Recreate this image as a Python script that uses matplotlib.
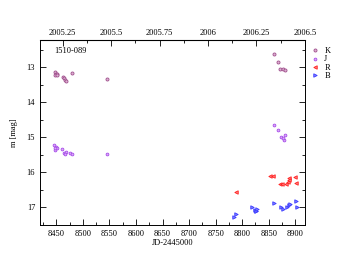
import matplotlib
matplotlib.use("Agg")
import matplotlib.pyplot as plt
from matplotlib.ticker import MultipleLocator, FixedLocator

# ===== DATA (JD-2445000, magnitude) =====
k_jd = [8447.4, 8449.3, 8446.8, 8451.9, 8450.5, 8461.8, 8464.2, 8466.8, 8468.0,
        8479.2, 8545.4, 8859.6, 8868.2, 8871.9, 8877.5, 8881.3]
k_mag = [13.12, 13.20, 13.22, 13.18, 13.21, 13.28, 13.31, 13.37, 13.40,
         13.17, 13.33, 12.61, 12.84, 13.05, 13.06, 13.07]

j_jd = [8445.5, 8449.3, 8446.8, 8451.0, 8446.8, 8459.9, 8464.2, 8468.0, 8466.0,
        8475.4, 8479.9, 8545.4, 8859.6, 8868.2, 8873.2, 8878.2, 8880.6, 8877.5]
j_mag = [15.21, 15.28, 15.37, 15.30, 15.31, 15.33, 15.44, 15.41, 15.47,
         15.44, 15.47, 15.47, 14.64, 14.79, 14.98, 15.06, 14.94, 15.02]

r_jd = [8787.8, 8853.2, 8858.3, 8871.9, 8875.1, 8882.6, 8886.3, 8888.7, 8888.7,
        8900.0, 8901.8]
r_mag = [16.55, 16.11, 16.11, 16.34, 16.34, 16.34, 16.27, 16.16, 16.21,
         16.14, 16.31]

b_jd = [8784.8, 8788.5, 8819.5, 8827.0, 8824.6, 8826.0, 8828.5, 8860.7, 8873.2,
        8876.9, 8884.4, 8888.2, 8890.0, 8901.8, 8903.1]
b_mag = [17.26, 17.20, 17.00, 17.11, 17.07, 17.10, 17.05, 16.86, 17.00,
         17.03, 16.98, 16.92, 16.90, 16.81, 16.98]

year_ticks = [2005.25, 2005.5, 2005.75, 2006, 2006.25, 2006.5]
year_labels = ["2005.25", "2005.5", "2005.75", "2006", "2006.25", "2006.5"]

# ===== CONFIG =====
JD_REF = 8461.8      # JD-2445000 at 2005.25
YEAR_REF = 2005.25
plt.rcParams["font.family"] = ["Liberation Serif", "DejaVu Serif"]
plt.rcParams["font.size"] = 6


def jd_to_year(x):
    return YEAR_REF + (x - JD_REF) / 365.25


def year_to_jd(y):
    return JD_REF + (y - YEAR_REF) * 365.25


fig = plt.figure(figsize=(3.54, 2.73), dpi=100)
ax = fig.add_axes([40 / 354, 48 / 273, 265 / 354, 185 / 273])

ax.plot(k_jd, k_mag, "o", ms=2.2, mfc="#dcb0d2", mec="#a0508c", mew=0.6, label="K")
ax.plot(j_jd, j_mag, "o", ms=2.0, mfc="#dcaaf5", mec="#a64dea", mew=0.6, label="J")
ax.plot(r_jd, r_mag, "<", ms=2.5, mfc="#ff8080", mec="#ff2020", mew=0.6, label="R")
ax.plot(b_jd, b_mag, ">", ms=2.5, mfc="#8080ff", mec="#3a3aff", mew=0.6, label="B")

ax.set_xlim(8419, 8918.5)
ax.set_ylim(17.5, 12.22)
ax.xaxis.set_major_locator(MultipleLocator(50))
ax.xaxis.set_minor_locator(MultipleLocator(25))
ax.yaxis.set_major_locator(MultipleLocator(1))
ax.yaxis.set_minor_locator(MultipleLocator(0.5))
ax.tick_params(which="both", direction="in", right=True, labelsize=6, width=0.6)
ax.tick_params(which="major", length=4)
ax.tick_params(which="minor", length=2)
for s in ax.spines.values():
    s.set_linewidth(0.7)

ax.set_xlabel("JD-2445000", fontsize=6, labelpad=1)
ax.set_ylabel("m [mag]", fontsize=6, labelpad=6)
ax.text(8446, 12.6, "1510-089", fontsize=6)

top = ax.secondary_xaxis("top", functions=(jd_to_year, year_to_jd))
top.xaxis.set_major_locator(FixedLocator(year_ticks))
top.set_xticklabels(year_labels)
top.xaxis.set_minor_locator(MultipleLocator(0.125))
top.tick_params(which="both", direction="in", labelsize=6, width=0.6)
top.tick_params(which="major", length=4, pad=2)
top.tick_params(which="minor", length=2)

ax.legend(loc="upper left", bbox_to_anchor=(1.01, 0.98), frameon=False,
          fontsize=6, handlelength=1.0, handletextpad=0.6, labelspacing=0.05,
          borderaxespad=0.0)

fig.savefig("out.png", dpi=100)
